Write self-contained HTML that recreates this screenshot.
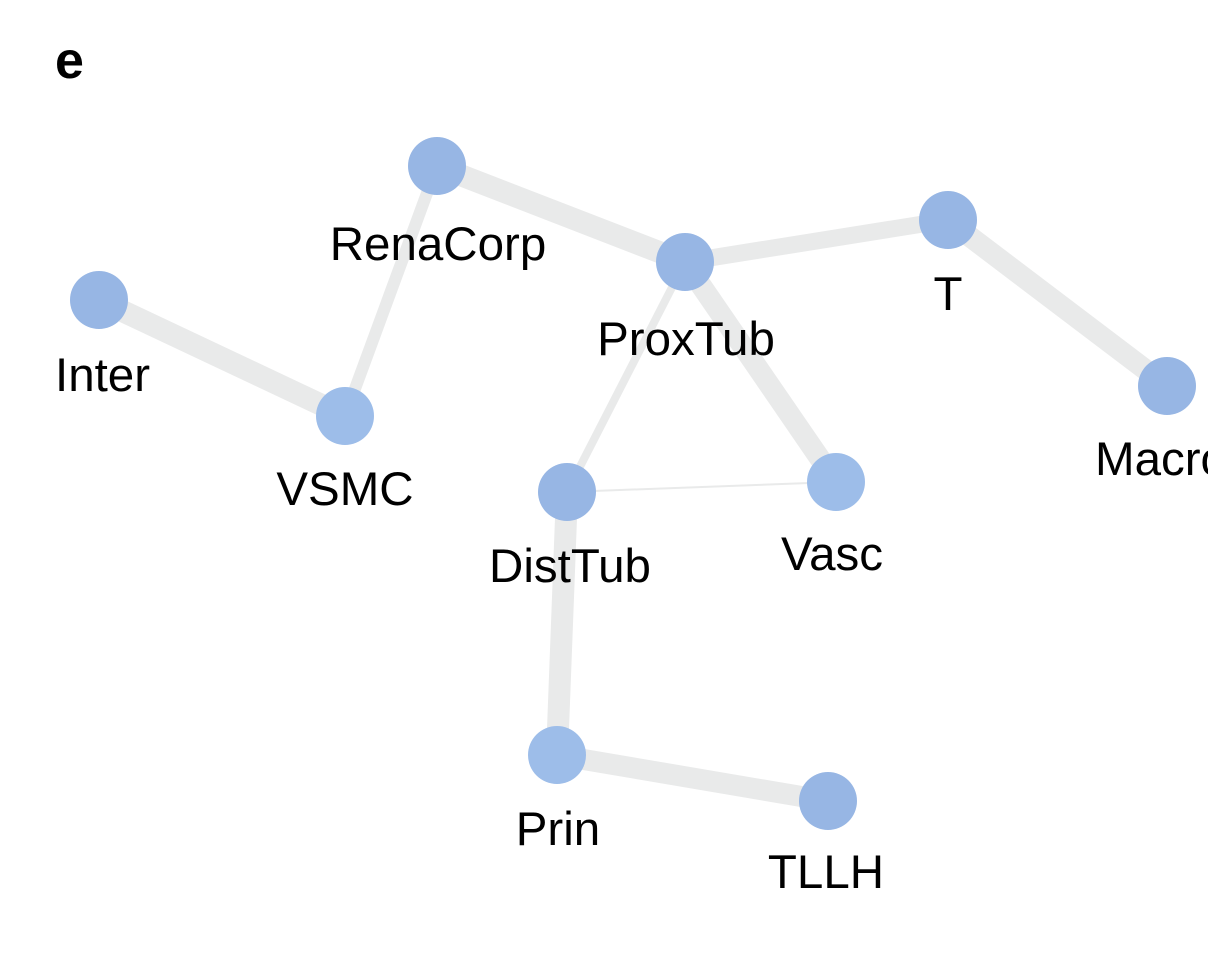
<!DOCTYPE html>
<html><head><meta charset="utf-8"><style>
html,body{margin:0;padding:0;background:#fff;width:1208px;height:953px;overflow:hidden}
text{font-family:"Liberation Sans",Arial,sans-serif;font-size:47.5px;fill:#000}
</style></head><body>
<svg width="1208" height="953" viewBox="0 0 1208 953" xmlns="http://www.w3.org/2000/svg">
<g stroke="#e9eaea" stroke-linecap="butt">
<line x1="437" y1="166" x2="685" y2="262" stroke-width="22"/>
<line x1="437" y1="166" x2="345" y2="416" stroke-width="12"/>
<line x1="99" y1="300" x2="345" y2="416" stroke-width="22"/>
<line x1="685" y1="262" x2="948" y2="220" stroke-width="17"/>
<line x1="948" y1="220" x2="1167" y2="386" stroke-width="21"/>
<line x1="685" y1="262" x2="567" y2="492" stroke-width="8"/>
<line x1="685" y1="262" x2="836" y2="482" stroke-width="21"/>
<line x1="567" y1="492" x2="836" y2="482" stroke-width="2"/>
<line x1="567" y1="492" x2="557" y2="755" stroke-width="22"/>
<line x1="557" y1="755" x2="828" y2="801" stroke-width="21"/>
</g>
<g fill="#97b6e4">
<circle cx="437" cy="166" r="29"/>
<circle cx="685" cy="262" r="29"/>
<circle cx="948" cy="220" r="29"/>
<circle cx="1167" cy="386" r="29"/>
<circle cx="99" cy="300" r="29"/>
<circle cx="345" cy="416" r="29" fill="#9dbde9"/>
<circle cx="567" cy="492" r="29"/>
<circle cx="836" cy="482" r="29" fill="#9dbde9"/>
<circle cx="557" cy="755" r="29" fill="#9dbde9"/>
<circle cx="828" cy="801" r="29"/>
</g>
<text x="55" y="78" style="font-size:52px;font-weight:bold">e</text>
<text x="438" y="260" text-anchor="middle">RenaCorp</text>
<text x="686" y="355" text-anchor="middle">ProxTub</text>
<text x="948" y="310" text-anchor="middle">T</text>
<text x="1095" y="475">Macro</text>
<text x="55" y="391">Inter</text>
<text x="345" y="505" text-anchor="middle">VSMC</text>
<text x="570" y="582" text-anchor="middle">DistTub</text>
<text x="832" y="570" text-anchor="middle">Vasc</text>
<text x="558" y="845" text-anchor="middle">Prin</text>
<text x="826" y="888" text-anchor="middle">TLLH</text>
</svg>
</body></html>
